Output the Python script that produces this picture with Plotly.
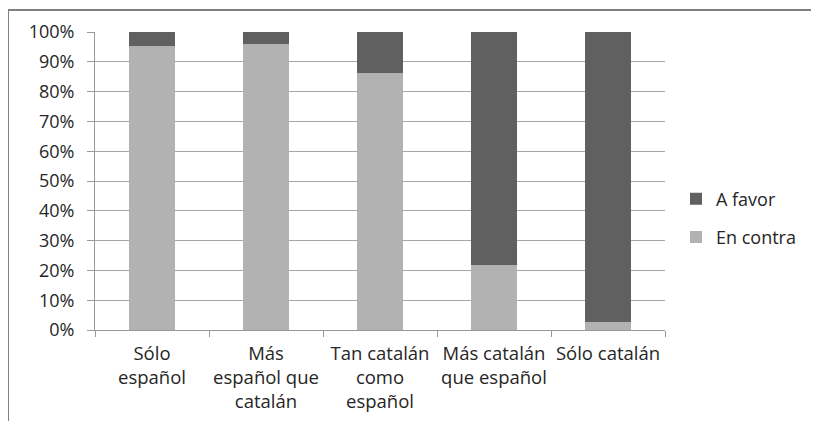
import plotly.graph_objects as go

categories = ["Sólo<br>español", "Más<br>español que<br>catalán", "Tan catalán<br>como<br>español",
              "Más catalán<br>que español", "Sólo catalán"]
en_contra = [95.3, 96.0, 86.2, 21.8, 2.6]
a_favor = [100 - v for v in en_contra]
y_ticks = [0, 10, 20, 30, 40, 50, 60, 70, 80, 90, 100]
y_labels = [f"{v}%" for v in y_ticks]

FONT = "Open Sans"
fig = go.Figure()
fig.add_trace(go.Bar(x=categories, y=en_contra, name="En contra", marker_color="#b2b2b2",
                     marker_line_width=0, legendrank=2, legendgroup="b"))
fig.add_trace(go.Bar(x=categories, y=a_favor, name="A favor", marker_color="#606060",
                     marker_line_width=0, legendrank=1, legendgroup="a"))

# browser adds an 8px body margin; compensate
OFF = 8
W, H = 819, 421
L, T = 95 - OFF, 32 - OFF
pw, ph = 570, 298
R, B = W - L - pw, H - T - ph
bx = (8 - OFF - L) / pw
ty = 1 + (T - (10 - OFF)) / ph

fig.update_layout(
    width=W, height=H, barmode="stack", bargap=0.6,
    margin=dict(l=L, r=R, t=T, b=B),
    paper_bgcolor="white", plot_bgcolor="white",
    font=dict(family=FONT, size=18, color="#262626"),
    legend=dict(x=(676 - OFF - L) / pw, y=(330 - 218) / ph, xanchor="left", yanchor="middle",
                traceorder="grouped", tracegroupgap=12, font=dict(size=18)),
    xaxis=dict(showline=True, linecolor="#999999", linewidth=1, ticks="outside", tickson="boundaries",
               ticklen=6, tickcolor="#999999", tickangle=0, showgrid=False, ticklabelstandoff=7,
               tickfont=dict(size=18.5)),
    yaxis=dict(range=[0, 100], tickvals=y_ticks, ticktext=y_labels, showline=True, linecolor="#999999",
               linewidth=1, ticks="outside", ticklen=7, tickcolor="#999999", showgrid=True,
               gridcolor="#a6a6a6", gridwidth=1, zeroline=False, ticklabelstandoff=9),
    shapes=[
        dict(type="line", xref="paper", yref="paper", x0=bx, x1=bx, y0=ty, y1=-0.5,
             line=dict(color="#808080", width=2)),
        dict(type="line", xref="paper", yref="paper", x0=bx, x1=1.5, y0=ty, y1=ty,
             line=dict(color="#808080", width=2)),
    ],
)
fig.write_html("out.html")
